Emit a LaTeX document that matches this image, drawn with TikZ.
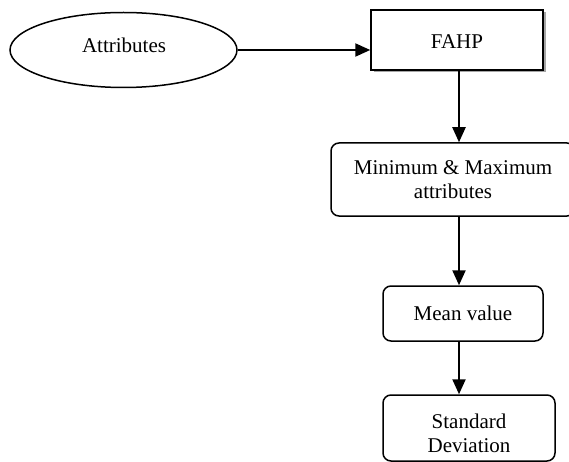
\documentclass[tikz,border=0pt]{standalone}
\usepackage{fontspec}
\setmainfont{Liberation Serif}
\usetikzlibrary{arrows.meta,shapes.geometric,shadows}
\begin{document}
\begin{tikzpicture}[x=1pt,y=-1pt,
  txt/.style={font=\fontsize{21}{24}\selectfont, align=center},
  rbox/.style={draw, line width=1.5pt, rounded corners=8pt, inner sep=0pt, fill=white},
  arr/.style={line width=2.2pt, -{Triangle[length=15pt,width=13pt]}}]
\useasboundingbox (0,0) rectangle (569,462);
\fill[white] (0,0) rectangle (569,462);
\node[draw, ellipse, line width=1.5pt, minimum width=227pt, minimum height=75pt, inner sep=0pt] (ell) at (123.5,50) {};
\node[txt] (ellt) at (124,45) {Attributes};
\node[draw, line width=1.5pt, fill=white, minimum width=172pt, minimum height=60pt, inner sep=0pt,
  drop shadow={shadow xshift=2.5pt, shadow yshift=-2.5pt, fill=gray!70, opacity=1}] (fahp) at (457,40) {};
\node[txt] (fahpt) at (457,42) {FAHP};
\node[rbox, minimum width=244pt, minimum height=73pt] (mm) at (453,179.5) {};
\node[txt] (mmt) at (453,180) {Minimum \& Maximum\\attributes};
\node[rbox, minimum width=160pt, minimum height=55pt] (mean) at (463,313.5) {};
\node[txt] (meant) at (463,313) {Mean value};
\node[rbox, minimum width=172pt, minimum height=66pt] (sd) at (469,428) {};
\node[txt] (sdt) at (469,433) {Standard\\Deviation};
\draw[arr] (ell.east) -- (ell.east -| fahp.west);
\coordinate (c1) at (459,70);
\draw[arr] (c1) -- (c1 |- mm.north);
\coordinate (c2) at (459,216);
\draw[arr] (c2) -- (c2 |- mean.north);
\coordinate (c3) at (459,341);
\draw[arr] (c3) -- (c3 |- sd.north);
\end{tikzpicture}
\end{document}
